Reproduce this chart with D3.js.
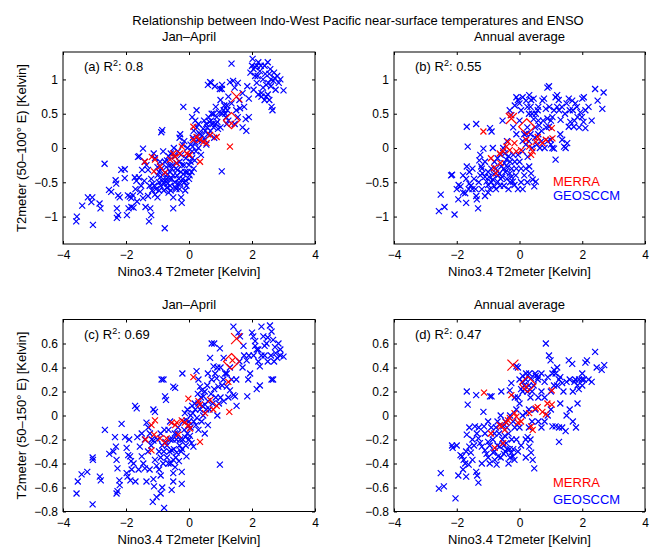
<!DOCTYPE html>
<html><head><meta charset="utf-8">
<script src="https://cdn.jsdelivr.net/npm/d3@7"></script>
<style>body{margin:0;background:#fff}svg{display:block;font-family:"Liberation Sans",Arial,Helvetica,sans-serif}</style>
</head><body><svg id="c" width="650" height="547"></svg>
<script>
const mainTitle="Relationship between Indo-West Pacific near-surface temperatures and ENSO";
const xTicks=[-4,-2,0,2,4];
const yTicksTop=[-1,-0.5,0,0.5,1];
const yTicksBottom=[-0.8,-0.6,-0.4,-0.2,0,0.2,0.4,0.6];
const panelTitles=["Jan–April","Annual average","Jan–April","Annual average"];
const panelLabels=["(a)","(b)","(c)","(d)"];
const r2Values=["0.8","0.55","0.69","0.47"];
const yLabels=["T2meter (50–100° E) [Kelvin]","","T2meter (50–150° E) [Kelvin]",""];
const xLabel="Nino3.4 T2meter [Kelvin]";
const legendNames=["MERRA","GEOSCCM"];

const geosA=[[-3.58,-1.07],[-3.56,-1.0],[-3.39,-0.84],[-3.21,-0.72],[-3.07,-0.72],[-3.1,-0.79],[-3.05,-1.12],[-2.84,-0.81],[-2.81,-0.88],[-2.68,-0.23],[-2.54,-0.61],[-2.47,-0.64],[-2.33,-0.47],[-2.31,-0.52],[-2.25,-0.69],[-2.29,-0.88],[-2.25,-0.98],[-2.29,-1.02],[-2.2,-0.72],[-2.15,-0.32],[-2.04,-0.44],[-2.04,-0.31],[-1.94,-0.69],[-1.88,-0.71],[-1.83,-0.73],[-1.78,-0.69],[-1.97,-0.98],[-1.92,-0.88],[-1.83,-0.86],[-1.76,-0.87],[-1.72,-0.43],[-1.67,-0.48],[-1.59,-0.43],[-1.62,-0.13],[-1.58,-0.12],[-1.46,-0.01],[-1.49,-0.32],[-1.41,-0.2],[-1.35,-0.25],[-1.3,-0.32],[-1.55,-0.64],[-1.46,-0.73],[-1.38,-0.86],[-1.27,-1.07],[-1.2,-0.98],[-1.23,-0.88],[-1.7,-0.6],[-1.65,-0.78],[-1.52,-0.55],[-1.42,-0.48],
[-1.2,-0.45],[-1.15,-0.52],[-1.1,-0.55],[-1.05,-0.6],[-1.17,-0.62],[-1.08,-0.68],[-1.0,-0.72],[-0.95,-0.62],[-0.9,-0.55],[-0.85,-0.48],[-1.12,-0.08],[-1.08,-0.15],[-1.0,-0.28],[-0.95,-0.35],[-0.9,-0.42],[-0.85,0.26],[-0.88,0.23],[-0.77,-1.17],[-0.82,-0.05],[-0.77,-0.2],[-0.72,-0.28],[-0.68,-0.38],[-0.75,-0.48],[-0.7,-0.58],[-0.65,-0.65],[-0.6,-0.55],[-0.55,-0.45],[-0.6,-0.35],[-0.52,-0.25],[-0.5,-0.72],[-0.5,-0.88],[-0.45,-0.12],[-0.42,-0.3],[-0.38,-0.4],[-0.35,-0.52],[-0.3,-0.6],[-0.25,-0.72],[-0.23,-0.8],[-0.3,-0.2],[-0.25,-0.1],[-0.2,0.05],[-0.18,0.6],[-0.28,0.2],[-0.3,0.15],[-0.15,-0.25],[-0.12,-0.35],[-0.1,-0.48],[-0.08,-0.55],[-0.1,-0.15],[-0.05,0.0],[-0.02,-0.1],[0.0,-0.25],[0.02,-0.4],[-0.15,0.1],[-0.4,-0.6],[-0.35,-0.05],[-0.65,-0.12],[-0.58,-0.08],[-0.48,0.0],[-0.8,-0.62],[-0.2,-0.45],
[0.05,0.05],[0.1,-0.05],[0.12,0.15],[0.15,0.25],[0.18,-0.18],[0.2,0.08],[0.24,0.55],[0.25,0.3],[0.3,0.35],[0.3,0.0],[0.35,0.2],[0.38,-0.1],[0.4,0.1],[0.45,0.28],[0.48,0.4],[0.5,0.12],[0.55,0.05],[0.6,0.2],[0.62,0.45],[0.67,0.96],[0.7,0.95],[0.72,0.5],[0.75,0.35],[0.78,0.3],[0.8,0.15],[0.85,0.6],[0.88,0.45],[0.9,0.38],[0.95,0.52],[0.98,0.86],[1.04,0.86],[1.04,-0.34],[1.0,0.3],[0.6,0.92],[0.82,0.9],[0.1,0.45],[0.2,0.4],[0.55,0.35],[0.68,0.25],[0.15,-0.3],[0.08,-0.35],
[1.1,0.55],[1.15,0.5],[1.2,0.62],[1.25,0.4],[1.3,0.96],[1.4,0.98],[1.35,1.23],[1.45,0.88],[1.55,0.95],[1.6,0.7],[1.5,0.55],[1.62,0.58],[1.7,0.8],[1.75,0.6],[1.8,0.42],[1.82,0.25],[1.85,0.9],[1.9,0.72],[1.95,1.1],[2.0,1.2],[2.02,1.3],[2.05,1.15],[2.1,1.05],[2.15,0.95],[2.2,1.25],[2.25,1.12],[2.3,0.8],[2.35,1.0],[2.4,1.2],[2.45,0.92],[2.5,0.78],[2.55,1.08],[2.6,1.0],[2.62,0.6],[2.65,0.55],[2.7,1.1],[2.75,0.85],[2.8,1.05],[2.85,0.95],[2.9,1.0],[3.0,0.84],[2.2,0.78],[2.3,0.75],[2.4,0.7],[1.9,0.45],[1.7,0.3],[2.05,0.85],[2.6,0.9],[1.35,0.65],[1.0,0.7],[1.55,0.45],[1.45,0.35],[2.5,1.25],[2.15,1.2],[1.2,0.35],
[-1.0,-0.4],[-0.95,-0.5],[-0.88,-0.3],[-0.8,-0.38],[-0.78,-0.52],[-0.72,-0.45],[-0.68,-0.52],[-0.62,-0.45],[-0.58,-0.62],[-0.55,-0.3],[-0.5,-0.4],[-0.45,-0.5],[-0.42,-0.58],[-0.4,-0.22],[-0.36,-0.32],[-0.32,-0.45],[-0.28,-0.52],[-0.26,-0.35],[-0.22,-0.25],[-0.18,-0.38],[-0.15,-0.5],[-0.12,-0.62],[-0.05,-0.35],[0.0,-0.45],[0.05,-0.2],[0.1,-0.15],[0.12,0.02],[0.22,-0.05],[0.28,0.12],[0.32,0.22],[0.42,0.18],[0.52,0.25],[0.58,0.3],[0.65,0.38],[0.7,0.4],[0.78,0.5],[0.85,0.35],[0.92,0.28],[1.05,0.5],[1.12,0.62],[1.18,0.45],[1.22,0.55],[2.1,1.18],[2.18,1.05],[2.28,1.2],[2.35,0.88],[2.42,1.08],[2.52,0.95],[2.58,1.15],[2.68,0.98],[2.72,1.02],[2.45,0.75],[2.55,0.7],[1.25,0.75],[1.05,0.92],[-0.6,-0.25],[-0.7,-0.18],[-0.92,-0.2],[-1.25,-0.55],[-1.3,-0.7]];
const merraA=[[-1.4,-0.2],[-1.18,-0.13],[-1.08,-0.17],[-1.11,-0.34],[-0.92,-0.27],[-0.76,-0.36],[-0.6,-0.17],[-0.5,-0.08],[-0.44,-0.13],[-0.29,-0.08],[-0.23,0.02],[-0.07,-0.08],[0.03,-0.1],[0.14,0.31],[0.24,0.16],[0.35,0.12],[0.35,-0.2],[0.46,0.09],[0.56,0.07],[0.67,0.19],[0.88,0.16],[1.3,0.02],[1.35,0.36],[0.14,0.12],[-0.39,-0.22]];
const bigXA=[[1.51,0.75]];
const diamondA=[[1.35,0.40]];

const geosB=[[-2.57,-0.92],[-2.51,-0.68],[-2.39,-0.86],[-2.18,-0.4],[-2.15,-0.39],[-2.07,-0.97],[-1.94,-0.54],[-1.88,-0.56],[-1.8,-0.65],[-1.68,0.31],[-1.65,0.02],[-1.68,-0.27],[-1.7,-0.8],[-1.73,-0.66],[-1.6,-0.52],[-1.55,-0.55],[-1.5,-0.6],[-1.62,-0.6],[-1.38,0.35],[-1.38,-0.7],[-1.32,-0.88],[-1.36,-0.75],[-1.28,-0.18],[-1.22,-0.27],[-1.18,-0.37],[-1.15,-0.01],[-1.1,-0.42],[-1.05,-0.49],[-1.0,-0.54],[-0.97,-0.42],[-0.94,0.29],[-0.89,0.24],[-0.85,-0.46],[-0.8,-0.56],[-0.75,-0.6],[-0.7,-0.49],[-0.64,-0.37],[-0.58,-0.27],[-0.54,0.4],[-0.52,0.0],[-0.47,-0.08],[-0.42,-0.17],[-0.31,-0.37],[-0.26,-0.42],[-0.21,-0.49],[-0.16,-0.54],[-0.1,0.74],[-0.05,0.7],[0.0,0.65],[0.1,0.74],[0.21,0.69],[0.31,0.77],[0.37,0.7],[0.52,0.5],[0.58,0.55],[-0.31,0.55],[-0.26,0.48],[0.21,0.21],[0.26,-0.13],[0.31,-0.27],[0.37,-0.37],[0.42,-0.46],[0.52,-0.49],[0.47,-0.56],[0.63,0.33],[0.73,0.69],[0.78,0.72],[0.84,0.57],[0.89,0.43],[0.94,0.31],[0.99,0.12],[1.05,0.0],[1.1,-0.01],[0.89,0.88],[0.94,0.9],[1.15,0.74],[1.2,0.77],[1.26,0.55],[1.31,0.41],[1.36,0.12],[1.42,0.02],[1.47,0.0],[1.52,0.07],[1.15,-0.17],[1.57,0.72],[1.68,0.69],[1.78,0.65],[1.83,0.6],[1.94,0.52],[1.99,0.45],[2.04,0.38],[2.1,0.29],[1.57,0.31],[1.62,0.38],[1.73,0.31],[2.0,0.72],[2.05,0.74],[2.41,0.86],[2.49,0.69],[2.64,0.57],[2.68,0.81],
[-0.9,-0.3],[-0.8,-0.2],[-0.7,-0.15],[-0.6,-0.1],[-0.5,-0.3],[-0.4,-0.45],[-0.3,-0.2],[-0.2,-0.1],[-0.1,-0.3],[0.0,-0.2],[0.1,-0.05],[0.2,0.05],[0.3,0.1],[0.4,0.0],[0.5,0.15],[0.6,0.2],[0.7,0.1],[0.8,0.0],[0.15,-0.4],[0.05,-0.5],[-0.05,-0.6],[0.3,0.5],[0.45,0.42],[0.5,0.3],[-1.2,-0.6],[-1.1,-0.7],[-1.0,-0.65],[-1.45,-0.45],[-1.3,-0.5],[-0.6,-0.45],[-0.5,-0.55],[-0.35,-0.6],[1.0,0.4],[1.1,0.55],[1.2,0.6],[1.3,0.2],[0.75,0.4],[0.6,0.6],[0.35,0.6],[0.0,0.4],[-0.2,0.3],[-0.1,0.2],[2.2,0.6],[2.3,0.4],[1.85,0.45],[1.7,0.55],[0.95,0.6],[1.05,0.45],[-1.25,-0.1],[-1.5,-0.3],[-1.8,-0.4],[-2.0,-0.6],[-1.95,-0.75],[-0.85,0.0],[-0.4,0.1],[0.2,-0.3],
[-1.2,-0.3],[-1.1,-0.2],[-1.0,-0.35],[-0.95,-0.6],[-0.9,-0.5],[-0.82,-0.38],[-0.75,-0.3],[-0.68,-0.4],[-0.62,-0.55],[-0.55,-0.42],[-0.48,-0.22],[-0.45,-0.35],[-0.38,-0.28],[-0.35,-0.12],[-0.25,-0.3],[-0.15,-0.2],[-0.12,-0.4],[-0.05,-0.1],[0.05,-0.3],[0.1,0.1],[0.15,0.2],[0.25,0.3],[0.35,0.2],[0.4,0.5],[0.55,0.05],[0.65,0.0],[0.7,0.25],[0.85,0.3],[0.9,0.1],[1.0,0.05],[1.25,0.7],[1.35,0.6],[1.45,0.5],[1.5,0.65],[1.6,0.55],[1.75,0.4],[1.9,0.3],[2.1,0.55],[0.45,0.72],[0.05,0.55],[-0.15,0.62],[0.25,0.6],[-1.6,-0.35],[-1.4,-0.6],[-1.7,-0.45],[-1.25,-0.4],[-0.3,-0.5],[0.1,-0.6],[0.25,-0.5],[0.6,0.4]];
const merraB=[[-1.15,0.24],[-0.91,-0.15],[-0.81,-0.29],[-0.75,-0.37],[-0.61,-0.22],[-0.63,-0.08],[-0.52,-0.05],[-0.42,0.02],[-0.37,0.09],[-0.31,-0.03],[-0.16,0.07],[-0.1,-0.05],[0.05,-0.03],[0.21,0.12],[0.31,0.02],[0.37,-0.1],[0.42,-0.05],[0.52,0.09],[0.58,0.16],[0.73,0.07],[0.84,0.12],[1.03,0.29],[1.05,0.14],[-0.28,0.48]];
const bigXB=[[-0.26,0.43]];
const diamondB=[[0.23,0.31]];

const geosC=[[-3.57,-0.65],[-3.53,-0.55],[-3.41,-0.49],[-3.23,-0.47],[-3.06,-0.35],[-3.05,-0.37],[-3.06,-0.74],[-2.83,-0.51],[-2.8,-0.54],[-2.67,-0.12],[-2.53,-0.32],[-2.35,-0.18],[-2.32,-0.26],[-2.3,-0.37],[-2.27,-0.44],[-2.3,-0.65],[-2.27,-0.63],[-2.21,-0.54],[-2.2,-0.58],[-2.14,-0.07],[-2.03,-0.18],[-1.98,-0.27],[-1.93,-0.33],[-1.87,-0.34],[-1.84,-0.38],[-1.98,-0.48],[-1.95,-0.51],[-1.86,-0.54],[-1.82,-0.45],[-1.76,-0.4],[-1.71,0.08],[-1.66,0.06],[-1.64,-0.18],[-1.56,-0.26],[-1.5,-0.34],[-1.45,-0.4],[-1.4,-0.44],[-1.35,-0.06],[-1.29,-0.1],[-1.24,-0.15],[-1.18,-0.2],[-1.13,0.05],[-1.08,0.03],[-1.13,-0.21],[-1.08,-0.37],[-1.03,-0.42],[-1.13,-0.53],[-1.11,-0.59],[-1.15,-0.72],[-1.03,-0.68],[-0.87,0.3],[-0.81,0.3],[-0.79,-0.77],[-0.76,0.16],[-0.73,0.13],[-0.65,-0.12],[-0.6,-0.2],[-0.55,-0.29],[-0.5,-0.37],[-0.44,-0.43],[-0.39,-0.31],[-0.5,0.24],[-0.44,0.23],[-0.5,-0.48],[-0.5,-0.55],[-0.23,-0.47],[-0.23,-0.57],[-0.21,0.35],[-0.13,0.02],[-0.08,-0.04],[-0.02,-0.09],[0.03,-0.17],[0.08,-0.23],[0.14,-0.26],[-0.08,-0.34],[0.24,0.37],[0.3,0.3],[0.35,0.24],[0.4,0.21],[0.46,0.16],[0.51,0.09],[0.67,0.48],[0.72,0.6],[0.78,0.41],[0.83,0.35],[0.88,0.31],[0.93,0.24],[0.98,0.56],[0.98,-0.41],[1.09,0.3],[1.2,0.24],[1.3,0.21],[1.41,0.17],[1.51,0.08],[1.46,0.16],[1.41,0.74],[1.57,0.69],[1.62,0.66],[1.73,0.58],[1.83,0.46],[1.85,0.16],[1.88,0.3],[1.94,0.35],[2.0,0.69],[2.04,0.66],[2.1,0.58],[2.15,0.55],[2.2,0.45],[2.25,0.41],[2.3,0.74],[2.36,0.66],[2.46,0.6],[2.57,0.75],[2.62,0.7],[2.67,0.63],[2.73,0.57],[2.84,0.6],[3.0,0.49],[2.62,0.3],[2.67,0.3],[2.15,0.22],[2.25,0.25],
[-0.9,-0.15],[-0.85,-0.25],[-0.8,-0.3],[-0.75,-0.22],[-0.7,-0.35],[-0.65,-0.4],[-0.6,-0.05],[-0.45,-0.15],[-0.4,-0.2],[-0.35,-0.1],[-0.3,-0.25],[-0.25,-0.3],[-0.2,-0.2],[-0.15,-0.12],[-0.1,-0.25],[-0.05,0.05],[0.0,-0.05],[0.05,0.0],[0.1,0.08],[0.15,-0.05],[0.2,0.05],[0.25,-0.02],[0.3,0.1],[0.35,0.05],[0.4,-0.05],[0.45,0.0],[0.55,0.05],[0.6,0.12],[0.7,0.18],[0.75,0.1],[0.85,0.15],[0.9,0.0],[1.0,0.15],[1.1,0.12],[1.2,0.35],[1.3,0.4],[1.0,0.4],[0.6,-0.08],[0.5,-0.15],[0.3,-0.12],[-0.95,-0.45],[-0.9,-0.5],[-0.85,-0.6],[-0.55,-0.62],[-1.3,-0.3],[-1.2,-0.25],[-1.6,-0.45],[-1.7,-0.55],[1.6,0.45],[1.7,0.4],[1.75,0.5],[2.4,0.5],[2.5,0.45],[2.8,0.48],[2.9,0.55],[1.5,0.3],[0.8,0.6],[0.6,0.35],[1.1,0.48],
[-1.0,-0.2],[-0.95,-0.3],[-0.9,-0.35],[-0.82,-0.4],[-0.78,-0.12],[-0.7,-0.25],[-0.62,-0.3],[-0.58,-0.4],[-0.52,-0.2],[-0.48,-0.28],[-0.42,-0.35],[-0.38,-0.15],[-0.32,-0.38],[-0.28,-0.2],[-0.22,-0.28],[-0.18,-0.05],[-0.12,-0.18],[-0.05,-0.15],[0.0,-0.2],[0.05,-0.1],[0.12,0.02],[0.18,0.1],[0.22,-0.08],[0.28,0.18],[0.38,0.15],[0.42,0.08],[0.5,0.2],[0.58,0.25],[0.65,0.05],[0.72,0.3],[0.8,0.22],[0.9,0.4],[0.95,0.1],[1.05,0.25],[1.15,0.35],[1.25,0.15],[1.35,0.3],[2.05,0.5],[2.1,0.62],[2.2,0.55],[2.3,0.5],[2.4,0.58],[2.5,0.65],[2.6,0.5],[2.7,0.45],[2.75,0.52],[2.9,0.5],[1.9,0.5],[-1.4,-0.2],[-1.5,-0.15],[-1.25,-0.45],[-1.35,-0.55],[-0.9,-0.65],[-1.9,-0.2],[-2.4,-0.3]];
const merraC=[[-1.38,-0.2],[-1.19,-0.08],[-1.08,-0.04],[-1.11,-0.16],[-1.19,-0.29],[-0.92,-0.19],[-0.76,-0.23],[-0.71,-0.19],[-0.55,-0.06],[-0.44,-0.08],[-0.39,-0.06],[-0.34,-0.16],[-0.23,-0.04],[-0.13,-0.06],[-0.02,-0.08],[0.03,-0.11],[-0.02,0.14],[0.14,0.32],[0.3,0.12],[0.35,0.09],[0.35,-0.22],[0.51,0.02],[0.67,0.13],[0.77,0.05],[0.88,0.08],[1.28,0.03],[1.25,0.28],[1.38,0.46]];
const bigXC=[[1.51,0.64]];
const diamondC=[[1.35,0.45]];

const geosD=[[-2.57,-0.61],[-2.51,-0.48],[-2.41,-0.59],[-2.15,-0.25],[-2.13,-0.27],[-2.04,-0.69],[-1.88,-0.33],[-1.83,-0.34],[-1.78,-0.37],[-1.73,-0.4],[-1.68,0.2],[-1.65,0.09],[-1.68,-0.16],[-1.7,-0.51],[-1.6,-0.26],[-1.55,-0.31],[-1.5,-0.37],[-1.62,-0.41],[-1.38,0.17],[-1.38,-0.47],[-1.31,-0.56],[-1.35,-0.5],[-1.42,-0.09],[-1.36,-0.15],[-1.31,-0.19],[-1.26,-0.23],[-1.2,-0.26],[-1.15,0.03],[-1.13,-0.09],[-1.1,-0.29],[-1.05,-0.32],[-1.0,-0.22],[-0.94,0.16],[-0.89,0.16],[-0.84,-0.31],[-0.79,-0.37],[-0.73,-0.41],[-0.68,-0.34],[-0.63,-0.26],[-0.58,0.2],[-0.52,-0.09],[-0.47,-0.17],[-0.42,-0.23],[-0.31,-0.28],[-0.26,-0.31],[-0.21,-0.34],[-0.16,-0.37],[-0.1,0.41],[-0.05,0.4],[0.0,0.3],[0.1,0.33],[0.21,0.35],[0.31,0.35],[0.37,0.31],[0.52,0.33],[0.58,0.3],[-0.31,0.21],[-0.26,0.27],[0.21,0.02],[0.26,-0.18],[0.31,-0.26],[0.37,-0.31],[0.42,-0.37],[0.47,-0.44],[0.84,0.6],[0.94,0.5],[0.99,0.46],[1.1,0.38],[1.15,0.35],[1.26,0.3],[1.36,0.27],[1.57,0.46],[1.68,0.43],[1.78,0.3],[1.89,0.22],[1.99,0.3],[2.1,0.44],[2.15,0.46],[2.41,0.53],[2.46,0.4],[2.62,0.38],[2.7,0.42],[1.05,-0.09],[1.15,-0.09],[1.26,-0.1],[1.36,-0.1],[1.47,-0.13],[1.26,-0.22],[0.7,-0.1],[0.8,-0.05],[0.9,0.0],[1.0,0.05],[1.5,0.0],[1.6,0.05],[1.7,-0.05],[1.85,0.1],[2.0,0.25],[2.2,0.3],[2.3,0.28],[1.3,0.1],[1.4,0.2],[1.2,0.25],[0.7,0.35],[0.8,0.28],[0.6,0.15],[0.5,0.05],
[-0.9,-0.1],[-0.8,-0.15],[-0.7,-0.05],[-0.6,0.0],[-0.5,-0.25],[-0.4,-0.1],[-0.3,0.0],[-0.2,-0.05],[-0.1,0.05],[0.0,-0.1],[0.1,0.0],[0.3,0.05],[0.4,-0.05],[0.05,-0.25],[-0.05,-0.3],[0.1,0.2],[0.15,0.25],[-0.15,0.15],[0.25,0.2],[0.4,0.2],[-1.0,-0.35],[-0.95,-0.4],[-0.6,-0.35],[-0.45,-0.3],[-0.35,-0.4],[0.2,-0.35],[0.35,-0.2],[-1.2,-0.4],[-1.45,-0.25],[-1.8,-0.45],[-1.95,-0.5],[-2.0,-0.25],[1.0,0.2],[1.1,0.25],[0.9,0.32],[1.7,0.2],[1.9,0.3],[2.05,0.3],
[-1.1,-0.15],[-1.0,-0.05],[-0.95,-0.25],[-0.85,-0.2],[-0.8,-0.3],[-0.75,-0.1],[-0.7,-0.25],[-0.65,-0.15],[-0.55,-0.2],[-0.5,-0.32],[-0.45,-0.05],[-0.4,-0.28],[-0.35,-0.15],[-0.25,-0.2],[-0.2,-0.28],[-0.15,-0.1],[-0.1,-0.2],[0.0,0.1],[0.05,0.22],[0.1,0.28],[0.2,0.3],[0.3,0.25],[0.35,0.15],[0.45,0.25],[0.5,0.35],[0.6,0.32],[0.7,0.2],[0.8,0.15],[1.05,0.35],[1.2,0.4],[1.3,0.32],[1.5,0.28],[1.6,0.3],[1.75,0.28],[1.85,0.25],[2.0,0.35],[1.8,-0.1],[0.6,-0.05],[0.3,-0.1],[0.2,-0.2],[-0.3,-0.35],[-1.3,-0.1],[-1.5,-0.2],[-1.6,-0.1],[-1.7,-0.3],[-0.05,0.15]];
const merraD=[[-1.13,0.19],[-0.91,-0.15],[-0.79,-0.27],[-0.63,-0.08],[-0.58,-0.09],[-0.52,-0.23],[-0.47,-0.12],[-0.42,-0.06],[-0.37,-0.04],[-0.31,-0.02],[-0.26,0.17],[-0.16,0.02],[-0.1,-0.01],[-0.05,-0.06],[0.05,-0.05],[0.21,0.24],[0.31,0.02],[0.37,-0.09],[0.42,-0.12],[0.52,0.06],[0.58,0.07],[0.73,0.03],[0.84,0.01],[0.89,0.1],[1.03,0.09],[1.03,0.21]];
const bigXD=[[-0.21,0.42]];
const diamondD=[[0.26,0.26]];

const svg=d3.select("#c");
const W=650,H=547;
svg.append("rect").attr("width",W).attr("height",H).attr("fill","#fff");
svg.append("text").attr("x",358).attr("y",25).attr("text-anchor","middle")
  .attr("font-size",13).text(mainTitle);

const cols=[[63,315],[394,645]];
const rows=[[52,244],[319.5,511.5]];
const panels=[
 {geos:geosA,merra:merraA,bigX:bigXA,dia:diamondA,yDom:[-1.4,1.4],yT:yTicksTop,legend:false},
 {geos:geosB,merra:merraB,bigX:bigXB,dia:diamondB,yDom:[-1.4,1.4],yT:yTicksTop,legend:[186,200]},
 {geos:geosC,merra:merraC,bigX:bigXC,dia:diamondC,yDom:[-0.8,0.8],yT:yTicksBottom,legend:false},
 {geos:geosD,merra:merraD,bigX:bigXD,dia:diamondD,yDom:[-0.8,0.8],yT:yTicksBottom,legend:[487,504]}
];
const fmt=d=>{const s=d3.format("~g")(Math.abs(d));return d<0?"\u2212"+s:s;};
const xPath="M-3,-3L3,3M-3,3L3,-3";
const bigPath="M-5.5,-5.5L5.5,5.5M-5.5,5.5L5.5,-5.5";
const diaPath="M0,-8L8,0L0,8L-8,0Z";

panels.forEach((p,i)=>{
  const [x0,x1]=cols[i%2],[y0,y1]=rows[Math.floor(i/2)];
  const x=d3.scaleLinear().domain([-4,4]).range([x0,x1]);
  const y=d3.scaleLinear().domain(p.yDom).range([y1,y0]);
  const g=svg.append("g");
  g.append("text").attr("x",(x0+x1)/2).attr("y",y0-11).attr("text-anchor","middle").attr("font-size",13).text(panelTitles[i]);
  const cid="clip"+i;
  svg.append("clipPath").attr("id",cid).append("rect").attr("x",x0).attr("y",y0).attr("width",x1-x0).attr("height",y1-y0);
  const pts=g.append("g").attr("clip-path",`url(#${cid})`);
  const mark=(data,path,col)=>pts.append("g").selectAll("path").data(data).join("path").attr("d",path)
    .attr("transform",d=>`translate(${x(d[0])},${y(d[1])})`).attr("stroke",col).attr("stroke-width",1.2).attr("fill","none");
  mark(p.geos,xPath,"#0000ff");
  mark(p.merra,xPath,"#ff0000");
  mark(p.bigX,bigPath,"#ff0000");
  mark(p.dia,diaPath,"#ff0000");
  const ax=(a,tr)=>g.append("g").attr("transform",tr).call(a).call(s=>s.select(".domain").remove())
     .call(s=>s.selectAll("text").attr("fill","#000").attr("font-size",12).attr("font-family","Liberation Sans, Arial, sans-serif"))
     .call(s=>s.selectAll("line").attr("stroke","#000"));
  ax(d3.axisBottom(x).tickValues(xTicks).tickFormat(fmt).tickSizeInner(-3).tickSizeOuter(0).tickPadding(6.5),`translate(0,${y1})`);
  ax(d3.axisTop(x).tickValues(xTicks).tickFormat("").tickSizeInner(-3).tickSizeOuter(0),`translate(0,${y0})`);
  ax(d3.axisLeft(y).tickValues(p.yT).tickFormat(fmt).tickSizeInner(-3).tickSizeOuter(0).tickPadding(5),`translate(${x0},0)`);
  ax(d3.axisRight(y).tickValues(p.yT).tickFormat("").tickSizeInner(-3).tickSizeOuter(0),`translate(${x1},0)`);
  g.append("rect").attr("x",x0).attr("y",y0).attr("width",x1-x0).attr("height",y1-y0).attr("fill","none").attr("stroke","#000").attr("stroke-width",1);
  const t=g.append("text").attr("x",x0+21).attr("y",y0+19).attr("font-size",13);
  t.append("tspan").text(panelLabels[i]+" R");
  t.append("tspan").attr("font-size",9).attr("dy",-5).text("2");
  t.append("tspan").attr("dy",5).text(": "+r2Values[i]);
  g.append("text").attr("x",(x0+x1)/2).attr("y",y1+32).attr("text-anchor","middle").attr("font-size",13).text(xLabel);
  if(yLabels[i]) g.append("text").attr("transform",`translate(26,${(y0+y1)/2}) rotate(-90)`).attr("text-anchor","middle").attr("font-size",13).text(yLabels[i]);
  if(p.legend){
    g.append("text").attr("x",553).attr("y",p.legend[0]).attr("font-size",13).attr("fill","#ff0000").text(legendNames[0]);
    g.append("text").attr("x",553).attr("y",p.legend[1]).attr("font-size",13).attr("fill","#0000ff").text(legendNames[1]);
  }
});
</script></body></html>
